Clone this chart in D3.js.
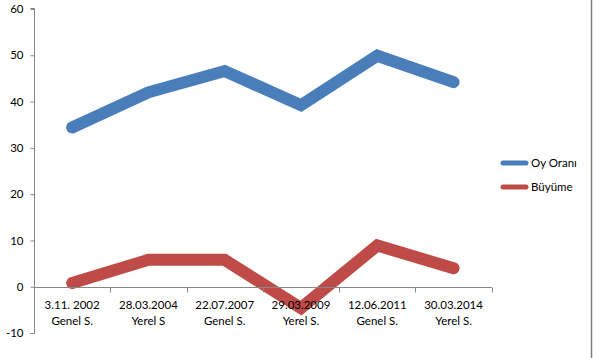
<!DOCTYPE html>
<html><head><meta charset="utf-8">
<script src="https://cdn.jsdelivr.net/npm/d3@7"></script>
<style>body{margin:0;background:#fff}svg{display:block}text{font-family:Lato,"Open Sans",sans-serif;fill:#000}</style>
</head><body>
<script>
const categories = [["3.11. 2002","Genel S."],["28.03.2004","Yerel S"],["22.07.2007","Genel S."],["29.03.2009","Yerel S."],["12.06.2011","Genel S."],["30.03.2014","Yerel S."]];
const oyOrani = [34.4, 42.0, 46.6, 39.2, 49.9, 44.2];
const buyume = [0.8, 5.8, 5.8, -4.6, 8.9, 4.0];
const yTicks = [-10, 0, 10, 20, 30, 40, 50, 60];
const seriesNames = ["Oy Oranı", "Büyüme"];
const colors = ["#4A7EBB", "#BE4B48"];

const W = 593, H = 358;
const svg = d3.select("body").append("svg").attr("width", W).attr("height", H);
const x = d3.scaleBand().domain(d3.range(categories.length)).range([34, 491.7]);
const y = d3.scaleLinear().domain([-10, 60]).range([333, 9]);

// right border
svg.append("line").attr("x1", 591.5).attr("x2", 591.5).attr("y1", 0).attr("y2", H).attr("stroke", "#7f7f7f").attr("stroke-width", 1.5);

// lines (drawn below axes)
const line = d3.line().x((d, i) => x(i) + x.bandwidth() / 2).y(d => y(d));
[oyOrani, buyume].forEach((s, k) => {
  svg.append("path").attr("d", line(s)).attr("fill", "none").attr("stroke", colors[k])
    .attr("stroke-width", 12).attr("stroke-linecap", "round").attr("stroke-linejoin", "miter");
});

// y axis
const yAxis = svg.append("g").attr("transform", "translate(34.5,0)")
  .call(d3.axisLeft(y).tickValues(yTicks).tickSize(4).tickPadding(7).tickFormat(d => String(d)));
yAxis.selectAll("path,line").attr("stroke", "#868686");
yAxis.select(".domain").attr("d", `M-4,${y(-10)+0.5}H0V${y(60)-0.5}H-4`);
yAxis.selectAll("text").attr("font-size", "11.5px").attr("font-family", "Lato,'Open Sans',sans-serif").attr("fill", "#000");

// x axis at zero
const xg = svg.append("g").attr("transform", `translate(0,${Math.round(y(0))+0.5})`);
xg.append("line").attr("x1", 34).attr("x2", 491.7).attr("stroke", "#868686");
const bounds = d3.range(categories.length + 1).map(i => i === categories.length ? 491.7 : x(i));
xg.selectAll("line.tk").data(bounds.slice(1)).join("line").attr("class", "tk")
  .attr("x1", d => Math.round(d) + 0.5).attr("x2", d => Math.round(d) + 0.5).attr("y1", 0).attr("y2", 5).attr("stroke", "#868686");
const lbl = xg.selectAll("text").data(categories).join("text")
  .attr("x", (d, i) => x(i) + x.bandwidth() / 2).attr("text-anchor", "middle").attr("font-size", "11.5px");
lbl.append("tspan").attr("x", (d, i) => x(i) + x.bandwidth() / 2).attr("y", 21).text(d => d[0]);
lbl.append("tspan").attr("x", (d, i) => x(i) + x.bandwidth() / 2).attr("y", 37).text(d => d[1]);

// legend
seriesNames.forEach((n, k) => {
  const ly = 163 + k * 24;
  svg.append("line").attr("x1", 503).attr("x2", 526).attr("y1", ly).attr("y2", ly)
    .attr("stroke", colors[k]).attr("stroke-width", 5).attr("stroke-linecap", "round");
  svg.append("text").attr("x", 531).attr("y", ly + 4).attr("font-size", "11.5px").text(n);
});
</script>
</body></html>
